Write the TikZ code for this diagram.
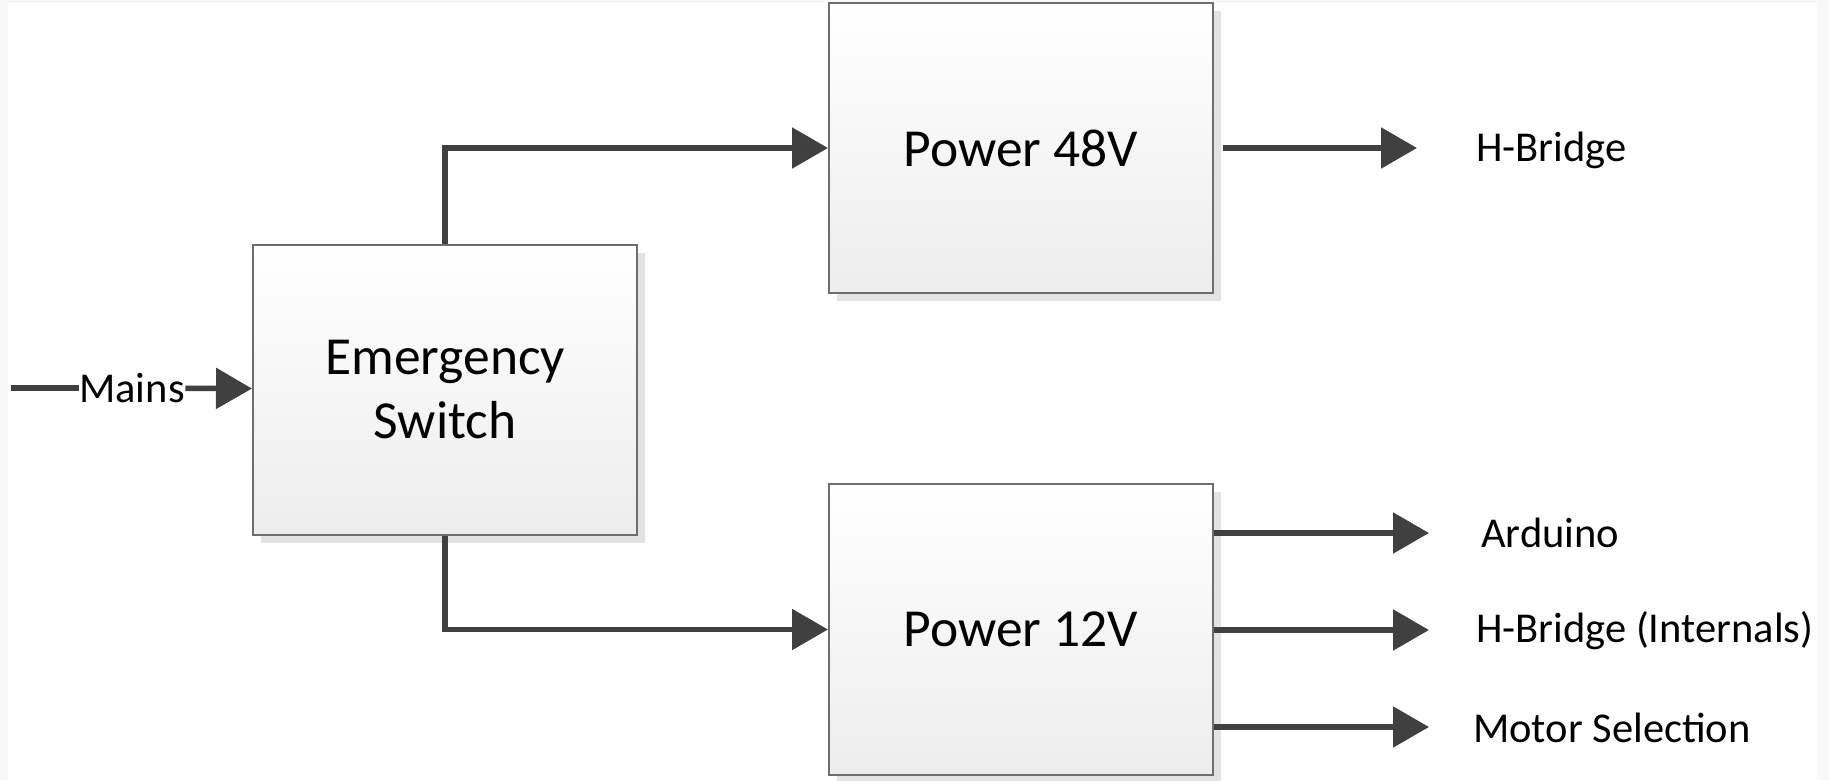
\documentclass[tikz,border=0pt]{standalone}
\usepackage{fontspec}
\setmainfont{Carlito}
\usetikzlibrary{arrows.meta,shadows}
\definecolor{wiregray}{HTML}{404040}
\definecolor{boxline}{HTML}{6E6E6E}
\definecolor{boxshade}{HTML}{EDEDED}
\definecolor{shadowgray}{HTML}{E3E3E3}
\definecolor{framegray}{HTML}{F8F8F8}
\begin{document}
\begin{tikzpicture}[x=1pt,y=-1pt,
  block/.style={draw=boxline, line width=2pt, top color=white, bottom color=boxshade,
    minimum width=384pt, minimum height=290pt, align=center, inner sep=0pt,
    font=\fontsize{53.5}{64}\selectfont,
    drop shadow={shadow xshift=8pt, shadow yshift=-8pt, fill=shadowgray, opacity=1}},
  wire/.style={draw=wiregray, line width=5.5pt},
  feed/.style={wire, -{Triangle[length=36pt,width=40pt]}},
  outtext/.style={font=\fontsize{42.5}{50}\selectfont, anchor=west, inner sep=0pt}
]
% page and its faint frame
\useasboundingbox (0,0) rectangle (1829,780);
\fill[framegray] (0,0) rectangle (1829,780);
\fill[white] (8,3) rectangle (1817,780);

% blocks
\node[block] (es)  at (445,389.5) {Emergency\\Switch};
\node[block] (p48) at (1021,148)  {Power 48V};
\node[block, minimum height=291pt] (p12) at (1021,629.5) {Power 12V};

% mains input
\coordinate (mainsin) at (11,388);
\node[font=\fontsize{42.5}{50}\selectfont, inner sep=0.5pt] (mains) at (132,388) {Mains};
\draw[wire] (mainsin) -- (mains);
\draw[feed] (mains) -- (es);

% distribution from the emergency switch
\draw[feed] (es.north) |- (p48.west);
\draw[feed] (es.south) |- (p12.west);

% 48 V output
\coordinate (o48s) at (1223,148);
\coordinate (o48e) at (1417,148);
\node[outtext] (hb) at (1476,150) {H-Bridge};
\draw[feed] (o48s) -- (o48e);

% 12 V outputs
\coordinate (oa) at (1429,533);
\coordinate (ob) at (1429,630);
\coordinate (oc) at (1429,727);
\node[outtext] (ard) at (1481,533) {Arduino};
\node[outtext] (hbi) at (1476,631) {H-Bridge (Internals)};
\node[outtext] (mot) at (1473,728) {Motor Selection};
\draw[feed] (p12.east |- oa) -- (oa);
\draw[feed] (p12.east |- ob) -- (ob);
\draw[feed] (p12.east |- oc) -- (oc);
\end{tikzpicture}
\end{document}
